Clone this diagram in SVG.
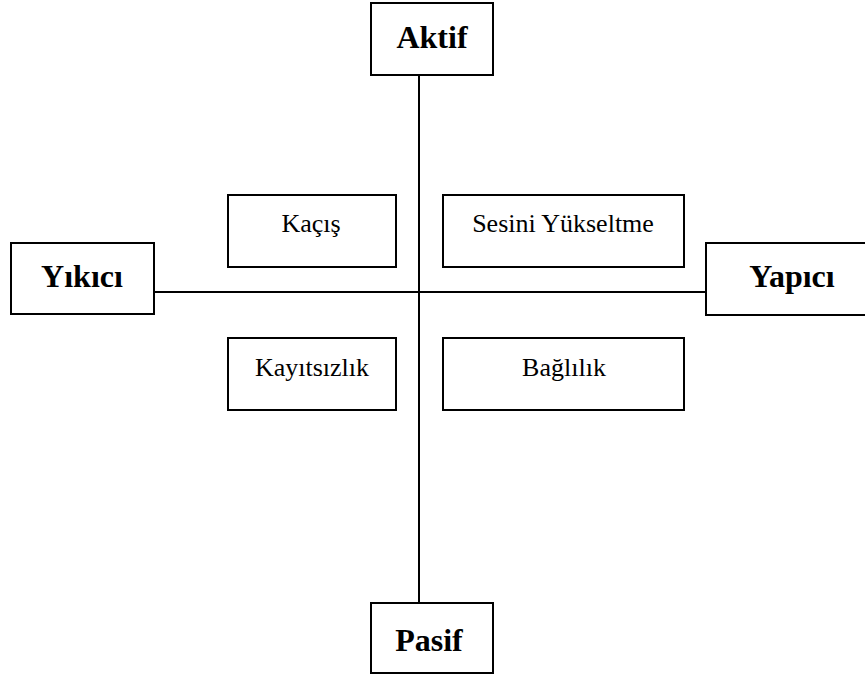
<svg xmlns="http://www.w3.org/2000/svg" width="865" height="678" viewBox="0 0 865 678">
<style>
.box{fill:#fff;stroke:#000;stroke-width:2}
.ln{stroke:#000;stroke-width:2;fill:none}
.b{font-family:'Liberation Serif','Times New Roman',serif;font-weight:bold;font-size:32px;text-anchor:middle;fill:#000}
.r{font-family:'Liberation Serif','Times New Roman',serif;font-size:26px;text-anchor:middle;fill:#000}
</style>
<rect width="865" height="678" fill="#fff"/>
<g id="connectors">
<line class="ln" x1="419" y1="75" x2="419" y2="603"/>
<line class="ln" x1="155" y1="292" x2="706" y2="292"/>
</g>
<g id="aktif"><rect class="box" x="371" y="3" width="122" height="72"/><text class="b" x="432" y="48">Aktif</text></g>
<g id="pasif"><rect class="box" x="371" y="603" width="122" height="70"/><text class="b" x="429" y="651">Pasif</text></g>
<g id="yikici"><rect class="box" x="11" y="243" width="143" height="71"/><text class="b" x="82" y="287">Yıkıcı</text></g>
<g id="yapici"><rect class="box" x="706" y="243" width="170" height="72"/><text class="b" x="792" y="287">Yapıcı</text></g>
<g id="kacis"><rect class="box" x="228" y="195" width="168" height="72"/><text class="r" x="311" y="232">Kaçış</text></g>
<g id="sesini"><rect class="box" x="443" y="195" width="241" height="72"/><text class="r" x="563" y="232">Sesini Yükseltme</text></g>
<g id="kayitsizlik"><rect class="box" x="228" y="338" width="168" height="72"/><text class="r" x="312" y="376">Kayıtsızlık</text></g>
<g id="baglilik"><rect class="box" x="443" y="338" width="241" height="72"/><text class="r" x="564" y="376">Bağlılık</text></g>
</svg>
